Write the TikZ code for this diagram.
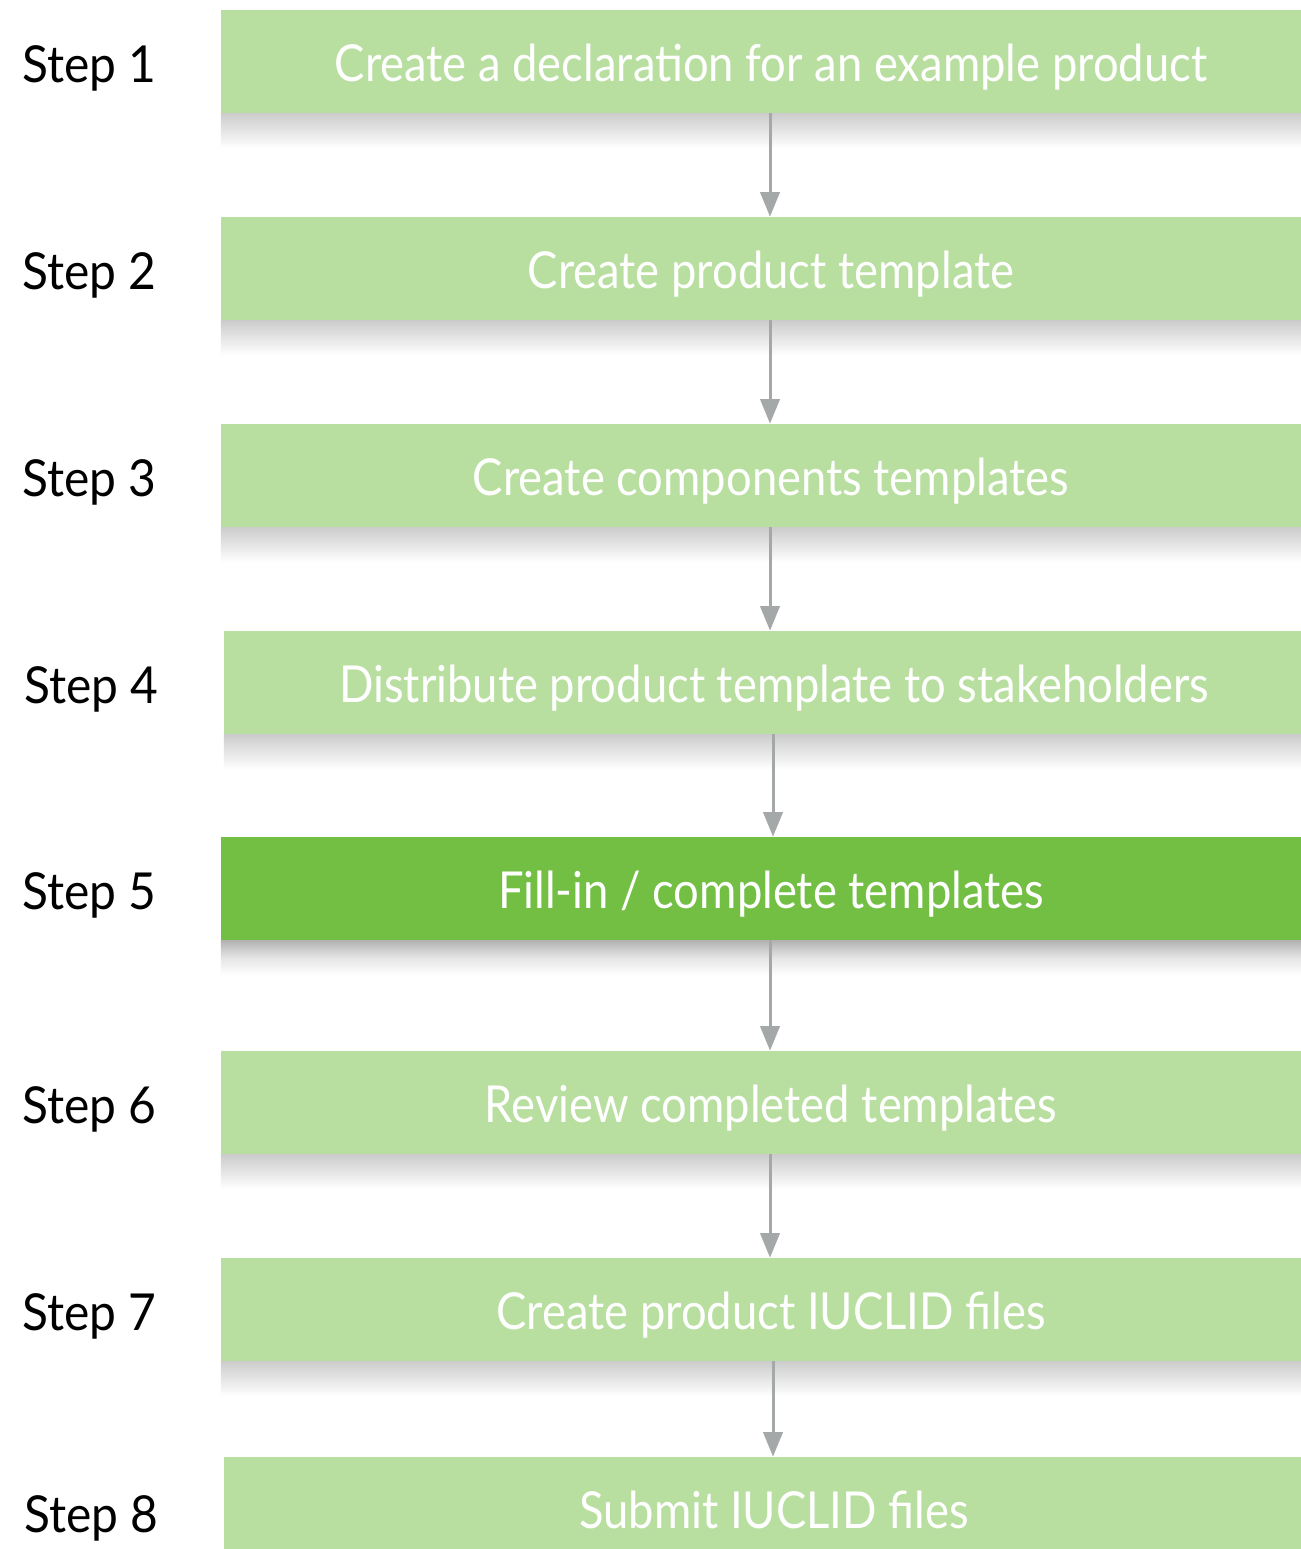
\documentclass[tikz,border=0pt]{standalone}
\usepackage{fontspec}
\setmainfont{Lato}
\newfontfamily\boxfont[FakeStretch=0.89]{Lato}
\newfontfamily\labelfont[FakeStretch=0.94]{Lato}
\usepackage{tikz}
\usetikzlibrary{arrows.meta}

\definecolor{lightgreen}{RGB}{184,223,160}
\definecolor{darkgreen}{RGB}{114,191,68}
\definecolor{arrowgray}{RGB}{165,168,168}

\tikzset{
  stepbox/.style={fill=lightgreen, minimum width=22cm, minimum height=2.06cm, inner sep=0pt,
    text=white, text height=23.3pt, text depth=0pt, font=\boxfont\fontsize{29}{32}\selectfont},
  steplabel/.style={anchor=base west, inner sep=0pt, text=black, font=\labelfont\fontsize{29}{32}\selectfont},
  stepshadow/.style={top color=black!20, middle color=black!7, bottom color=white, draw=none},
  steparrow/.style={draw=arrowgray, line width=1.7pt, -{Triangle[width=11pt,length=14pt]}}
}

\begin{document}
\begin{tikzpicture}[x=0.02cm, y=-0.02cm]
\useasboundingbox [fill=white] (0,0) rectangle (1301,1549);
\begin{scope}
\clip (0,0) rectangle (1301,1549);
% boxes
\node [stepbox] (b1) at (771,61.5) {Create a declaration for an example product};
\node [stepbox] (b2) at (771,268.5) {Create product template};
\node [stepbox] (b3) at (771,475.5) {Create components templates};
\node [stepbox] (b4) at (774,682.5) {Distribute product template to stakeholders};
\node [stepbox, fill=darkgreen] (b5) at (771,888.5) {Fill-in / complete templates};
\node [stepbox] (b6) at (771,1102.5) {Review completed templates};
\node [stepbox] (b7) at (771,1309.5) {Create product IUCLID files};
\node [stepbox] (b8) at (774,1508.5) {Submit IUCLID files};
% shadows
\shade [stepshadow] (b1.south west) rectangle ([yshift=-0.7cm]b1.south east);
\shade [stepshadow] (b2.south west) rectangle ([yshift=-0.7cm]b2.south east);
\shade [stepshadow] (b3.south west) rectangle ([yshift=-0.7cm]b3.south east);
\shade [stepshadow] (b4.south west) rectangle ([yshift=-0.7cm]b4.south east);
\shade [stepshadow, top color=black!30, middle color=black!10] (b5.south west) rectangle ([yshift=-0.7cm]b5.south east);
\shade [stepshadow] (b6.south west) rectangle ([yshift=-0.7cm]b6.south east);
\shade [stepshadow] (b7.south west) rectangle ([yshift=-0.7cm]b7.south east);
\end{scope}
% labels
\node [steplabel] (s1) at (22,82) {Step 1};
\node [steplabel] (s2) at (22,289) {Step 2};
\node [steplabel] (s3) at (22,496) {Step 3};
\node [steplabel] (s4) at (24,703) {Step 4};
\node [steplabel] (s5) at (22,909) {Step 5};
\node [steplabel] (s6) at (22,1123) {Step 6};
\node [steplabel] (s7) at (22,1330) {Step 7};
\node [steplabel] (s8) at (24,1532) {Step 8};
% arrows
\draw [steparrow] (b1.south -| 770,0) -- (b2.north -| 770,0);
\draw [steparrow] (b2.south -| 770,0) -- (b3.north -| 770,0);
\draw [steparrow] (b3.south -| 770,0) -- (b4.north -| 770,0);
\draw [steparrow] (b4.south -| 773,0) -- (b5.north -| 773,0);
\draw [steparrow] (b5.south -| 770,0) -- (b6.north -| 770,0);
\draw [steparrow] (b6.south -| 770,0) -- (b7.north -| 770,0);
\draw [steparrow] (b7.south -| 773,0) -- (b8.north -| 773,0);
\end{tikzpicture}
\end{document}
